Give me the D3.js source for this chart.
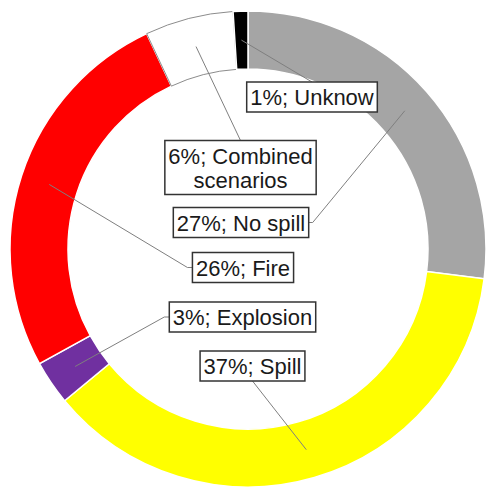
<!DOCTYPE html>
<head>
  <meta charset="utf-8">
  <script src="https://d3js.org/d3.v7.min.js"></script>
  <style>
    body { margin:0; background:#fff; }
    svg { display:block; }
    text { font-family: "Liberation Sans", Arial, sans-serif; font-size:22px; fill:#1a1a1a; }
  </style>
</head>

<body>
  <script>
    // data
    var categories = ["No spill", "Spill", "Explosion", "Fire", "Combined scenarios", "Unknow"];
    var values = [27, 37, 3, 26, 6, 1];
    var colors = ["#a5a5a5", "#ffff00", "#7030a0", "#ff0000", "#ffffff", "#000000"];

    // label layout: box centre, side where the leader line meets the box, text lines
    var labelPos = [
      { cx: 241, cy: 222.5, side: "right" },
      { cx: 252.5, cy: 366, side: "bottom" },
      { cx: 242.5, cy: 317, side: "left" },
      { cx: 243, cy: 267.5, side: "left" },
      { cx: 240.5, cy: 167.5, side: "top", lines: ["6%; Combined", "scenarios"] },
      { cx: 312, cy: 97, side: "top" }
    ];

    var width = 486, height = 490;
    var cx = 248, cy = 249;
    var outerR = 238, innerR = 180;

    var svg = d3.select("body").append("svg")
      .attr("width", width)
      .attr("height", height);

    var g = svg.append("g").attr("transform", "translate(" + cx + "," + cy + ")");

    var pie = d3.pie().sort(null).value(function(d){ return d; });
    var arcs = pie(values);

    var arc = d3.arc().innerRadius(innerR).outerRadius(outerR);

// Donut slices
    g.selectAll("path.slice")
      .data(arcs)
      .enter().append("path")
      .attr("class", "slice")
      .attr("d", arc)
      .attr("fill", function(d, i){ return colors[i]; })
      .attr("stroke", function(d, i){ return colors[i] == "#ffffff" ? "#8c8c8c" : "#fff"; })
      .attr("stroke-width", function(d, i){ return colors[i] == "#ffffff" ? 1 : 1.5; });

    var fmt = function(v){ return v + "%; "; };

// Labels: measure text first so the boxes fit
    var labels = svg.selectAll("g.label")
      .data(arcs)
      .enter().append("g")
      .attr("class", "label");

    labels.each(function(d, i){
      var p = labelPos[i];
      var lines = p.lines || [fmt(values[i]) + categories[i]];
      var lh = 24;
      var sel = d3.select(this);
      var rect = sel.append("rect");
      var txt = sel.append("text").attr("text-anchor", "middle");
      lines.forEach(function(t, k){
        txt.append("tspan")
          .attr("x", p.cx)
          .attr("y", p.cy + (k - (lines.length - 1) / 2) * lh + 8)
          .text(t);
      });
      var bb = txt.node().getBBox();
      var w = bb.width + 7;
      var h = lines.length * lh + 6;
      p.x0 = p.cx - w / 2; p.x1 = p.cx + w / 2;
      p.y0 = p.cy - h / 2; p.y1 = p.cy + h / 2;
      rect.attr("x", p.x0).attr("y", p.y0)
        .attr("width", w).attr("height", h)
        .attr("fill", "#fff")
        .attr("stroke", "#333")
        .attr("stroke-width", 1.5);
    });

// Leader lines from the middle of each slice to its label box
    var mid = d3.arc().innerRadius((innerR + outerR) / 2).outerRadius((innerR + outerR) / 2);
    var leaders = arcs.map(function(d, i){
      var c = mid.centroid(d);
      var start = [c[0] + cx, c[1] + cy];
      var p = labelPos[i];
      var pts = [start];
      if (p.side == "top") pts.push([p.cx, p.y0]);
      else if (p.side == "bottom") pts.push([p.cx, p.y1]);
      else if (p.side == "right") { pts.push([p.x1 + 4, p.cy]); pts.push([p.x1, p.cy]); }
      else { pts.push([p.x0 - 5, p.cy]); pts.push([p.x0, p.cy]); }
      return pts;
    });

    svg.insert("g", "g.label").selectAll("path")
      .data(leaders)
      .enter().append("path")
      .attr("d", d3.line())
      .attr("fill", "none")
      .attr("stroke", "#7f7f7f")
      .attr("stroke-width", 1);
  </script>
</body>
